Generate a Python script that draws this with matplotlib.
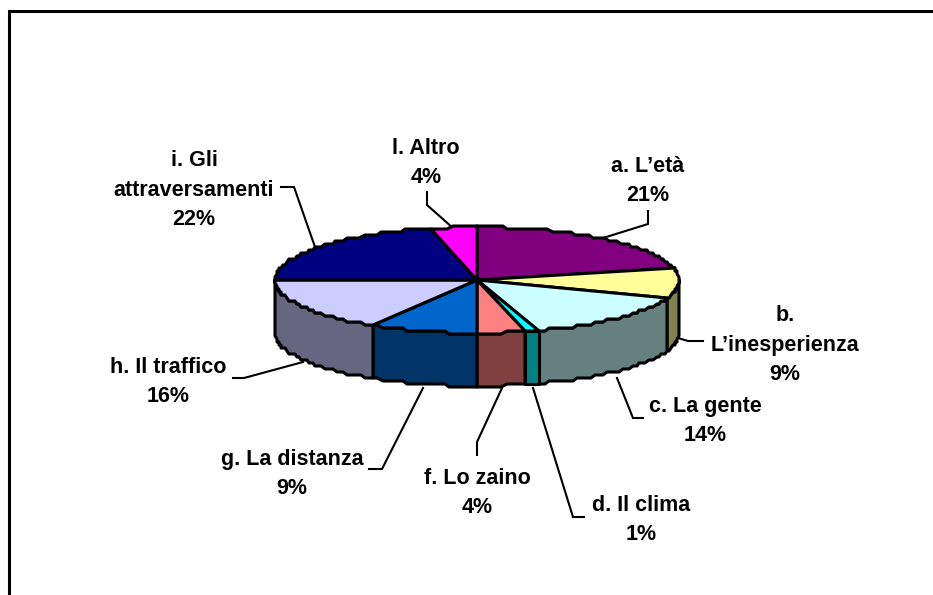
import numpy as np
import matplotlib
matplotlib.use('Agg')
import matplotlib.pyplot as plt

names = ['a. L\u2019et\u00e0', 'b.\nL\u2019inesperienza', 'c. La gente', 'd. Il clima', 'f. Lo zaino',
         'g. La distanza', 'h. Il traffico', 'i. Gli\nattraversamenti', 'l. Altro']
shown = ['21%', '9%', '14%', '1%', '4%', '9%', '16%', '22%', '4%']
shares = [21.6, 9.0, 14.4, 1.2, 3.8, 8.6, 16.4, 21.3, 3.7]
top_colors = ['#800080', '#FFFF99', '#CCFFFF', '#00FFFF', '#FF8080', '#0066CC', '#CCCCFF', '#000080', '#FF00FF']
side_colors = ['#400040', '#808050', '#668080', '#008080', '#804040', '#003366', '#666680', '#000040', '#800080']

# pie geometry, pixels of the picture
cx, cy, rx, ry, depth = 477, 280, 202, 53, 53

# leader lines and label centres, pixels of the picture
leaders = [[(603, 238), (648, 224), (648, 211)],
           [(678, 338), (688, 341), (703, 341)],
           [(617, 378), (633, 418), (643, 418)],
           [(533, 388), (573, 517), (584, 517)],
           [(502, 388), (477, 442), (477, 455)],
           [(423, 388), (382, 469), (369, 469)],
           [(303, 362), (244, 378), (233, 378)],
           [(315, 247), (294, 187), (281, 187)],
           [(453, 228), (427, 205), (427, 192)]]
label_pos = [(648, 181), (785, 345), (705, 421), (641, 520), (477, 493),
             (292, 474), (168, 382), (194, 190), (426, 163)]


def rim(start, end):
  # points on the ellipse, angle clockwise from 12 o'clock, snapped for the stepped edge
  n = max(2, int(abs(end - start) * 40))
  t = np.linspace(start, end, n)
  x = rx * np.sin(t)
  y = -ry * np.cos(t)
  return cx + np.round(x / 2) * 2, cy + np.round(y / 3) * 3


fig = plt.figure(figsize=(9.33, 5.95), dpi=100)
ax = fig.add_axes([0, 0, 1, 1])
ax.set_xlim(0, 933)
ax.set_ylim(595, 0)
ax.axis('off')

ax.plot([9, 9, 933], [595, 10.5, 10.5], color='black', lw=2.2, solid_joinstyle='miter')

edges = np.cumsum([0] + shares) / sum(shares) * 2 * np.pi

# sides first, only the front half shows
for i in range(len(shares)):
  a = max(edges[i], np.pi / 2)
  b = min(edges[i + 1], 3 * np.pi / 2)
  if a >= b:
    continue
  x, y = rim(a, b)
  px = np.concatenate([x, x[::-1]])
  py = np.concatenate([y, y[::-1] + depth])
  ax.fill(px, py, facecolor=side_colors[i], edgecolor='black', lw=2.2, joinstyle='round', zorder=2)

for i in range(len(shares)):
  x, y = rim(edges[i], edges[i + 1])
  ax.fill(np.r_[cx, x], np.r_[cy, y], facecolor=top_colors[i], edgecolor='black', lw=2.2,
          joinstyle='round', zorder=3)

for pts, name, pct, pos in zip(leaders, names, shown, label_pos):
  xs, ys = zip(*pts)
  ax.plot(xs, ys, color='black', lw=1.5, zorder=1, solid_joinstyle='miter')
  ax.text(pos[0], pos[1], name + '\n' + pct, ha='center', va='center', family='Liberation Sans',
          fontweight='bold', fontsize=15.5, linespacing=1.52, color='black')

fig.savefig('out.png', dpi=100)
